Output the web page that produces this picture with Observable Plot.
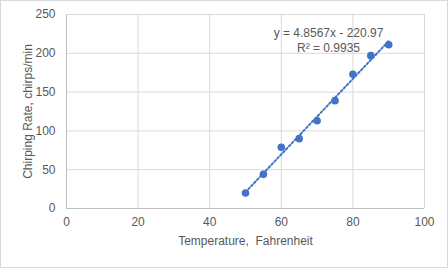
<!DOCTYPE html>
<html><head><meta charset="utf-8">
<script src="https://cdn.jsdelivr.net/npm/d3@7"></script>
<script src="https://cdn.jsdelivr.net/npm/@observablehq/plot@0.6"></script>
<style>
html,body{margin:0;padding:0;background:#fff;}
#chart{width:448px;height:268px;position:relative;}
#chart svg{display:block;}
#frame{position:absolute;left:0;top:0;width:448px;height:268px;border:1px solid #d9d9d9;box-sizing:border-box;pointer-events:none}
</style></head>
<body><div id="chart"><div id="frame"></div></div>
<script>
const temperature = [50, 55, 60, 65, 70, 75, 80, 85, 90];
const chirpRate = [20, 44, 79, 90, 113, 139, 173, 197, 211];
const xTicks = [0, 20, 40, 60, 80, 100];
const yTicks = [0, 50, 100, 150, 200, 250];
const equationLines = ["y = 4.8567x - 220.97", "R² = 0.9935"];
const xLabel = "Temperature,  Fahrenheit";
const yLabel = "Chirping Rate, chirps/min";

const data = temperature.map((t, i) => ({t, c: chirpRate[i]}));
const blue = "#4472C4";
const textGray = "#595959";
const font = "Liberation Sans, Arial, sans-serif";

const chart = Plot.plot({
  width: 448,
  height: 268,
  marginLeft: 66,
  marginRight: 24,
  marginTop: 14,
  marginBottom: 60,
  style: {fontFamily: font, fontSize: "12px", background: "transparent", color: textGray},
  x: {domain: [0, 100], ticks: xTicks},
  y: {domain: [0, 250], ticks: yTicks},
  marks: [
    Plot.gridX(xTicks, {stroke: "#d9d9d9", strokeOpacity: 1}),
    Plot.gridY(yTicks, {stroke: "#d9d9d9", strokeOpacity: 1}),
    Plot.ruleX([0], {stroke: "#bfbfbf"}),
    Plot.ruleY([0], {stroke: "#bfbfbf"}),
    Plot.axisX(xTicks, {tickSize: 0, tickPadding: 9, fill: textGray, label: null, fontSize: 12}),
    Plot.axisY(yTicks, {tickSize: 0, tickPadding: 11, fill: textGray, label: null, fontSize: 12}),
    Plot.text([xLabel], {frameAnchor: "bottom", dy: 36, fill: textGray, fontSize: 12}),
    Plot.text([yLabel], {frameAnchor: "left", rotate: -90, dx: -38, textAnchor: "middle", fill: textGray, fontSize: 12}),
    Plot.linearRegressionY(data, {x: "t", y: "c", ci: 0, stroke: blue, strokeWidth: 2, strokeDasharray: "2 2.2"}),
    Plot.dot(data, {x: "t", y: "c", r: 3.8, fill: blue, stroke: null}),
    Plot.text([equationLines.join("\n")], {frameAnchor: "top-right", dx: -96, dy: 12, textAnchor: "middle", lineAnchor: "top", lineHeight: 1.25, fill: textGray, fontSize: 12})
  ]
});
document.getElementById("chart").prepend(chart);
</script>
</body></html>
